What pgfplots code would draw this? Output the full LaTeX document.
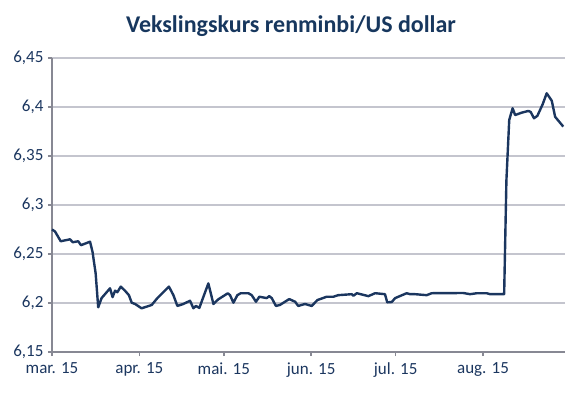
\documentclass[border=0pt]{standalone}
\usepackage{pgfplots}
\pgfplotsset{compat=1.18}
\usepackage{fontspec}
\setmainfont{Carlito}
\definecolor{navy}{HTML}{1B365F}
\definecolor{titlec}{HTML}{17375E}
\definecolor{gridc}{HTML}{C4C5CE}
\definecolor{axc}{HTML}{878893}
\begin{document}
\begin{tikzpicture}
\useasboundingbox (-52pt,-40pt) rectangle (529pt,352pt);
\begin{axis}[
  at={(0,0)}, anchor=south west,
  scale only axis, width=513pt, height=294pt,
  xmin=0, xmax=182.1, ymin=6.15, ymax=6.45,
  axis x line=bottom, axis y line=left,
  axis line style={-, draw=axc, line width=1.8pt},
  xtick={0,31,61,92,122,153},
  xticklabels={mar. 15, apr. 15, mai. 15, jun. 15, jul. 15, aug. 15},
  ytick={6.15,6.2,6.25,6.3,6.35,6.4,6.45},
  yticklabels={{6,15},{6,2},{6,25},{6,3},{6,35},{6,4},{6,45}},
  tick style={draw=axc, line width=1.5pt},
  major tick length=4pt,
  tick align=outside,
  ymajorgrids,
  grid style={draw=gridc, line width=1.2pt},
  ticklabel style={font=\fontsize{17}{20}\selectfont, text=navy},
  xticklabel style={yshift=-3pt},
  yticklabel style={xshift=-1pt},
  clip=false,
]
\addplot[navy, line width=2.4pt, line join=round] coordinates {
(0,6.275)(1.07,6.273)(3.1,6.263)(6.4,6.265)(7.35,6.262)(9.3,6.263)(10.3,6.259)(12.1,6.261)(13.5,6.2626)(14.4,6.252)(15.5,6.230)(16.4,6.1956)(17.6,6.205)(20.6,6.215)(21.5,6.206)(22.4,6.2126)(23.2,6.211)(24.4,6.2167)(25.9,6.2126)(27.3,6.208)(28.3,6.2003)(29.5,6.199)(31.8,6.1946)(35.4,6.198)(37.4,6.205)(41.5,6.2167)(43.1,6.208)(44.5,6.197)(46.6,6.199)(49,6.2023)(50.2,6.1946)(51.1,6.197)(52.3,6.195)(55.5,6.220)(57.3,6.199)(59,6.2037)(62.4,6.2099)(63.2,6.208)(64.4,6.2003)(65.8,6.208)(67,6.21)(69.7,6.21)(70.9,6.208)(72.4,6.2013)(73.6,6.2064)(76.2,6.205)(77.1,6.207)(78,6.205)(79.5,6.197)(80.9,6.198)(84.2,6.204)(86.3,6.2013)(87.4,6.197)(89.8,6.199)(92.2,6.197)(94.2,6.203)(97.5,6.2064)(99.9,6.2064)(101.6,6.208)(106.4,6.209)(107,6.2074)(108.2,6.21)(112.3,6.207)(114.7,6.21)(118.2,6.209)(119,6.2007)(120.6,6.201)(121.8,6.205)(125.9,6.21)(127.1,6.209)(128.9,6.209)(133,6.208)(134.8,6.21)(146,6.2102)(148.4,6.209)(150.8,6.21)(154.3,6.21)(155.5,6.209)(160.5,6.209)(161.3,6.325)(162.3,6.3867)(163.5,6.3987)(164.4,6.3918)(166.7,6.3942)(169.1,6.396)(169.9,6.395)(171.1,6.3885)(172.3,6.391)(174.2,6.403)(175.6,6.414)(177.4,6.4064)(178.6,6.390)(181.5,6.380)
};
\end{axis}
\node[font=\fontsize{24}{28}\selectfont\bfseries, text=titlec] at (239pt,326pt) {Vekslingskurs renminbi/US dollar};
\end{tikzpicture}
\end{document}
